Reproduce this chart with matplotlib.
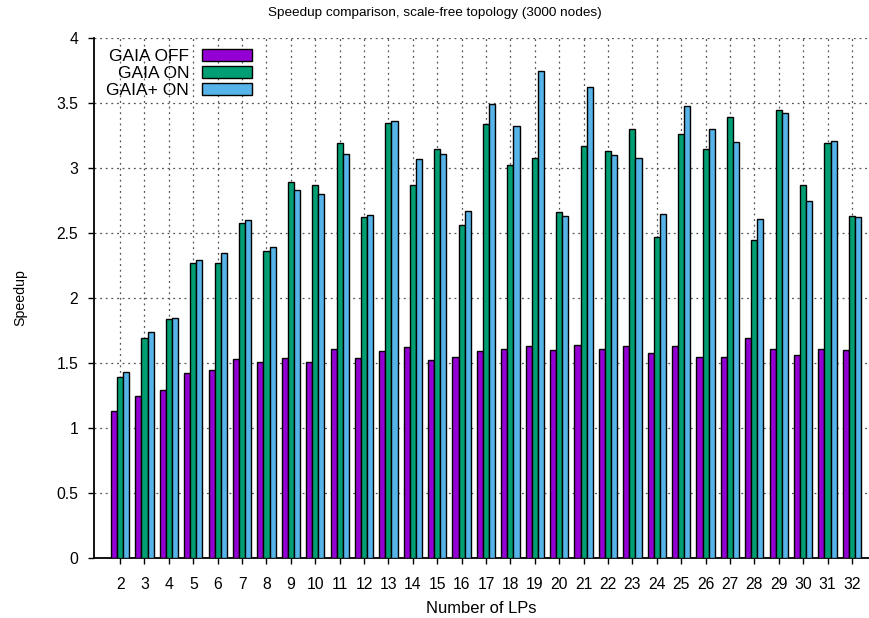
import numpy as np
import matplotlib
matplotlib.use("Agg")
from matplotlib import pyplot as plt

plt.rcParams['font.family'] = ['Liberation Sans', 'DejaVu Sans']

lps = list(range(2, 33))
gaia_off = [1.13, 1.25, 1.29, 1.42, 1.45, 1.53, 1.51, 1.54, 1.51, 1.61,
            1.54, 1.59, 1.62, 1.52, 1.55, 1.59, 1.61, 1.63, 1.60, 1.64,
            1.61, 1.63, 1.58, 1.63, 1.55, 1.55, 1.69, 1.61, 1.56, 1.61, 1.60]
gaia_on = [1.39, 1.69, 1.84, 2.27, 2.27, 2.58, 2.36, 2.89, 2.87, 3.19,
           2.62, 3.35, 2.87, 3.15, 2.56, 3.34, 3.02, 3.08, 2.66, 3.17,
           3.13, 3.30, 2.47, 3.26, 3.15, 3.39, 2.45, 3.45, 2.87, 3.19, 2.63]
gaia_plus_on = [1.43, 1.74, 1.85, 2.29, 2.35, 2.60, 2.39, 2.83, 2.80, 3.11,
                2.64, 3.36, 3.07, 3.11, 2.67, 3.49, 3.32, 3.75, 2.63, 3.62,
                3.10, 3.08, 2.65, 3.48, 3.30, 3.20, 2.61, 3.42, 2.75, 3.21, 2.62]

series = [("GAIA OFF", gaia_off, "#9400d3"),
          ("GAIA ON", gaia_on, "#009e73"),
          ("GAIA+ ON", gaia_plus_on, "#56b4e9")]

fig = plt.figure(figsize=(8.69, 6.18), dpi=100)
ax = fig.add_axes([94 / 869, 1 - 558 / 618, 775 / 869, 520 / 618])

x = np.arange(len(lps))
w = 0.25
for i, (name, vals, col) in enumerate(series):
    ax.bar(x + (i - 1) * w, vals, width=w, color=col, edgecolor="black",
           linewidth=1.0, label=name, zorder=3)

ax.set_xlim(-1.07, 30.7)
ax.set_ylim(0, 4)
ax.set_xticks(x)
ax.set_xticklabels([str(v) for v in lps])
ax.set_yticks(np.arange(0, 4.01, 0.5))
ax.set_yticklabels(["0", "0.5", "1", "1.5", "2", "2.5", "3", "3.5", "4"])
ax.tick_params(axis="y", direction="out", length=4.5, width=1, labelsize=11.3, pad=7)
ax.tick_params(axis="x", direction="out", length=4.5, width=1, labelsize=11.3, pad=9)

ax.grid(True, linestyle=(0, (1.5, 3)), color="#555555", linewidth=0.9, zorder=0)
for side in ["top", "right"]:
    ax.spines[side].set_visible(False)
for side in ["left", "bottom"]:
    ax.spines[side].set_linewidth(1.3)

fig.text(0.5, 1 - 13 / 618, "Speedup comparison, scale-free topology (3000 nodes)",
         fontsize=9.7, ha="center", va="center")
ax.set_xlabel("Number of LPs", fontsize=11.9, labelpad=7)
ax.set_ylabel("Speedup", fontsize=10.2, labelpad=21)

# legend: labels right-aligned, swatches to the right
ax.legend(loc="upper right", bbox_to_anchor=(252 / 869, 1 - 49 / 618),
          bbox_transform=fig.transFigure, frameon=False, markerfirst=False,
          fontsize=12.5, handlelength=2.9, handleheight=0.7,
          labelspacing=0.1, handletextpad=0.72, borderpad=0, borderaxespad=0)

fig.savefig("out.png", dpi=100)
